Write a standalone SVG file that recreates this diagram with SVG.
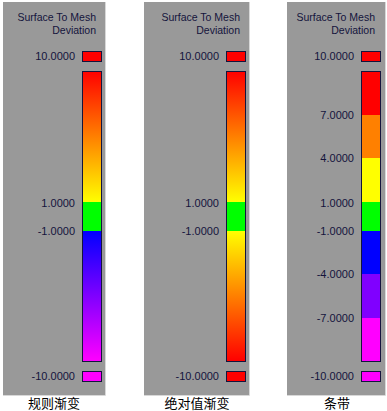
<svg xmlns="http://www.w3.org/2000/svg" width="387" height="411" viewBox="0 0 387 411">
<defs>
<linearGradient id="g1top" x1="0" y1="71" x2="0" y2="202" gradientUnits="userSpaceOnUse"><stop offset="0" stop-color="#ff0000"/><stop offset="1" stop-color="#ffff00"/></linearGradient>
<linearGradient id="g1bot" x1="0" y1="231" x2="0" y2="361" gradientUnits="userSpaceOnUse"><stop offset="0" stop-color="#0000ff"/><stop offset="1" stop-color="#ff00ff"/></linearGradient>
<linearGradient id="g2bot" x1="0" y1="231" x2="0" y2="361" gradientUnits="userSpaceOnUse"><stop offset="0" stop-color="#ffff00"/><stop offset="1" stop-color="#ff0000"/></linearGradient>
<style>
.panel{fill:#999999}
.edge{stroke:#d8d8d8;stroke-width:1;fill:none}
.lbl{font-family:"Liberation Sans",Arial,sans-serif;font-size:11px;fill:#14143c;text-anchor:end}
.ttl{font-family:"Liberation Sans",Arial,sans-serif;font-size:10.5px;fill:#14143c;text-anchor:end}
.cap{font-family:"Noto Sans CJK SC",sans-serif;font-size:13px;fill:#000;text-anchor:middle}
.box{stroke:#14143c;stroke-width:1}
</style>
</defs>
<rect width="387" height="411" fill="#ffffff"/>

<g id="panel1">
<rect class="panel" x="3" y="2" width="102" height="393"/>
<path class="edge" d="M105.5 2 V395.5 H3"/>
<text class="ttl" x="96" y="21">Surface To Mesh</text>
<text class="ttl" x="96" y="34">Deviation</text>
<rect class="box" x="82.5" y="51.5" width="19" height="10" fill="#ff0000"/>
<rect x="82.5" y="71.5" width="19" height="131" fill="url(#g1top)"/>
<rect x="82.5" y="202" width="19" height="29" fill="#00ff00"/>
<rect x="82.5" y="231" width="19" height="130.5" fill="url(#g1bot)"/>
<rect class="box" x="82.5" y="71.5" width="19" height="290" fill="none"/>
<rect class="box" x="82.5" y="371.5" width="19" height="10" fill="#ff00ff"/>
<text class="lbl" x="75" y="60">10.0000</text>
<text class="lbl" x="75" y="207">1.0000</text>
<text class="lbl" x="75" y="235">-1.0000</text>
<text class="lbl" x="75" y="380">-10.0000</text>
<text class="cap" x="54" y="408">规则渐变</text>
</g>

<g id="panel2">
<rect class="panel" x="144" y="2" width="105" height="393"/>
<path class="edge" d="M249.5 2 V395.5 H144"/>
<text class="ttl" x="240" y="21">Surface To Mesh</text>
<text class="ttl" x="240" y="34">Deviation</text>
<rect class="box" x="226.5" y="51.5" width="19" height="10" fill="#ff0000"/>
<rect x="226.5" y="71.5" width="19" height="131" fill="url(#g1top)"/>
<rect x="226.5" y="202" width="19" height="29" fill="#00ff00"/>
<rect x="226.5" y="231" width="19" height="130.5" fill="url(#g2bot)"/>
<rect class="box" x="226.5" y="71.5" width="19" height="290" fill="none"/>
<rect class="box" x="226.5" y="371.5" width="19" height="10" fill="#ff0000"/>
<text class="lbl" x="219" y="60">10.0000</text>
<text class="lbl" x="219" y="207">1.0000</text>
<text class="lbl" x="219" y="235">-1.0000</text>
<text class="lbl" x="219" y="380">-10.0000</text>
<text class="cap" x="197" y="408">绝对值渐变</text>
</g>

<g id="panel3">
<rect class="panel" x="287" y="2" width="98" height="393"/>
<path class="edge" d="M385.5 2 V395.5 H287"/>
<text class="ttl" x="375" y="21">Surface To Mesh</text>
<text class="ttl" x="375" y="34">Deviation</text>
<rect class="box" x="361.5" y="51.5" width="19" height="10" fill="#ff0000"/>
<rect x="361.5" y="71.5" width="19" height="43.5" fill="#ff0000"/>
<rect x="361.5" y="115" width="19" height="43" fill="#ff8000"/>
<rect x="361.5" y="158" width="19" height="44" fill="#ffff00"/>
<rect x="361.5" y="202" width="19" height="29" fill="#00ff00"/>
<rect x="361.5" y="231" width="19" height="43" fill="#0000ff"/>
<rect x="361.5" y="274" width="19" height="44" fill="#8000ff"/>
<rect x="361.5" y="318" width="19" height="43.5" fill="#ff00ff"/>
<rect class="box" x="361.5" y="71.5" width="19" height="290" fill="none"/>
<rect class="box" x="361.5" y="371.5" width="19" height="10" fill="#ff00ff"/>
<text class="lbl" x="354" y="60">10.0000</text>
<text class="lbl" x="354" y="119">7.0000</text>
<text class="lbl" x="354" y="162">4.0000</text>
<text class="lbl" x="354" y="207">1.0000</text>
<text class="lbl" x="354" y="235">-1.0000</text>
<text class="lbl" x="354" y="278">-4.0000</text>
<text class="lbl" x="354" y="322">-7.0000</text>
<text class="lbl" x="354" y="380">-10.0000</text>
<text class="cap" x="337" y="408">条带</text>
</g>
<g id="connectors"/>
</svg>
